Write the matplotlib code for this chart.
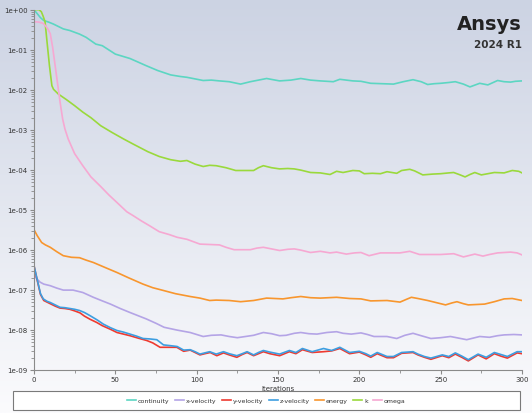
import numpy as np
import matplotlib
matplotlib.use('Agg')
import matplotlib.pyplot as plt
from matplotlib.patches import Rectangle

# residuals, stored as (iteration, log10 residual)
continuity = [(0, 0.0), (2, -0.1), (4, -0.2), (6, -0.27), (9, -0.31), (12, -0.36), (18, -0.48),
              (22, -0.52), (28, -0.61), (32, -0.69), (38, -0.86), (42, -0.9), (50, -1.11),
              (59, -1.22), (69, -1.40), (76, -1.52), (84, -1.63), (90, -1.67), (94, -1.69),
              (99, -1.73), (104, -1.77), (109, -1.76), (114, -1.78), (120, -1.80), (127, -1.86),
              (133, -1.80), (138, -1.76), (143, -1.72), (147, -1.75), (151, -1.78), (158, -1.76),
              (164, -1.72), (170, -1.76), (176, -1.78), (184, -1.80), (188, -1.74), (196, -1.78),
              (201, -1.79), (207, -1.84), (214, -1.85), (221, -1.86), (227, -1.80), (233, -1.75),
              (238, -1.80), (242, -1.87), (246, -1.85), (250, -1.84), (255, -1.82), (259, -1.80),
              (264, -1.86), (268, -1.93), (274, -1.84), (279, -1.88), (285, -1.77), (289, -1.80),
              (293, -1.81), (296, -1.79), (300, -1.78)]

x_velocity = [(0, -6.65), (3.7, -6.81), (6, -6.86), (10, -6.9), (14, -6.96), (18, -7.01), (24, -7.01),
              (30, -7.07), (36.5, -7.19), (42, -7.28), (47, -7.36), (53, -7.47), (59, -7.57),
              (64, -7.65), (69, -7.73), (75, -7.84), (80, -7.94), (88, -8.01), (96, -8.07),
              (100, -8.12), (104, -8.17), (109, -8.14), (115, -8.13), (120, -8.17), (125, -8.2),
              (130, -8.17), (135, -8.14), (141, -8.07), (146, -8.1), (151, -8.15), (155, -8.14),
              (160, -8.09), (164, -8.07), (169, -8.1), (174, -8.11), (180, -8.07), (186, -8.05),
              (190, -8.09), (195, -8.11), (201, -8.08), (205, -8.12), (209, -8.17), (217, -8.17),
              (223, -8.22), (228, -8.14), (233, -8.09), (238, -8.15), (244, -8.22), (250, -8.2),
              (256, -8.17), (261, -8.21), (266, -8.25), (270, -8.21), (274, -8.17), (280, -8.19),
              (285, -8.15), (289, -8.13), (295, -8.12), (300, -8.13)]

y_velocity = [(0, -6.4), (2, -6.77), (4, -7.12), (6, -7.27), (8, -7.31), (10, -7.35), (13, -7.41),
              (16, -7.46), (19, -7.47), (22, -7.49), (25, -7.53), (28.3, -7.58), (31, -7.66),
              (34.5, -7.74), (38.6, -7.82), (42, -7.9), (47, -7.99), (51, -8.07), (55, -8.11),
              (59, -8.15), (64, -8.21), (69.3, -8.27), (73, -8.33), (77.5, -8.44), (82, -8.44),
              (87.8, -8.44), (92, -8.54), (96, -8.51), (99, -8.57), (102, -8.63), (105, -8.6),
              (108.3, -8.57), (112.4, -8.65), (116.5, -8.58), (120, -8.63), (124.7, -8.69),
              (128, -8.62), (131, -8.57), (135, -8.65), (138, -8.6), (141, -8.55), (145, -8.6),
              (151, -8.65), (157, -8.55), (161, -8.6), (165, -8.5), (171, -8.57), (178, -8.55),
              (183, -8.53), (188, -8.47), (194, -8.6), (200, -8.56), (204, -8.63), (207, -8.69),
              (211, -8.6), (217, -8.7), (221, -8.7), (226, -8.59), (233, -8.57), (236, -8.63),
              (240, -8.69), (244, -8.74), (251, -8.65), (255, -8.7), (259, -8.61), (263, -8.69),
              (267, -8.78), (273, -8.63), (278, -8.73), (283, -8.6), (287, -8.66), (291, -8.71),
              (297, -8.58), (300, -8.6)]

z_velocity = [(0, -6.4), (2, -6.75), (4, -7.1), (5.7, -7.23), (8, -7.29), (10, -7.32), (13, -7.38),
              (16, -7.44), (19, -7.45), (22, -7.47), (25, -7.49), (28, -7.52), (31, -7.57),
              (34.5, -7.65), (39, -7.76), (42.6, -7.86), (47, -7.95), (51, -8.02), (55, -8.06),
              (59, -8.11), (63, -8.16), (67, -8.22), (71, -8.23), (75.5, -8.25), (79.6, -8.38),
              (84, -8.4), (88, -8.42), (92, -8.51), (96, -8.5), (99, -8.55), (102, -8.61),
              (105, -8.58), (108, -8.55), (112, -8.61), (116.5, -8.55), (120, -8.6), (124.7, -8.65),
              (128, -8.6), (131, -8.55), (135, -8.63), (138, -8.57), (141, -8.52), (145, -8.56),
              (151, -8.61), (157, -8.52), (161, -8.57), (165, -8.47), (171, -8.55), (178, -8.47),
              (183, -8.52), (188, -8.44), (194, -8.57), (200, -8.54), (204, -8.6), (207, -8.66),
              (211, -8.57), (217, -8.67), (221, -8.67), (226, -8.57), (233, -8.55), (236, -8.61),
              (240, -8.67), (244, -8.71), (251, -8.63), (255, -8.67), (259, -8.58), (263, -8.66),
              (267, -8.75), (273, -8.61), (278, -8.69), (283, -8.57), (287, -8.62), (291, -8.67),
              (297, -8.55), (300, -8.55)]

energy = [(0, -5.5), (2, -5.65), (4.7, -5.82), (7, -5.88), (10, -5.94), (14, -6.05), (18, -6.15),
          (23, -6.19), (28, -6.2), (32, -6.26), (36.5, -6.32), (44, -6.45), (51, -6.57), (58, -6.7),
          (67, -6.86), (73, -6.95), (79.6, -7.02), (87, -7.1), (96, -7.17), (102, -7.21),
          (108, -7.27), (112, -7.26), (120, -7.27), (127, -7.30), (135, -7.27), (143, -7.21),
          (148, -7.22), (153, -7.23), (158, -7.2), (164, -7.17), (170, -7.2), (176, -7.21),
          (186, -7.19), (194, -7.22), (201, -7.23), (207, -7.28), (217, -7.27), (225, -7.31),
          (229, -7.24), (232, -7.19), (236, -7.22), (242, -7.27), (248, -7.33), (253, -7.38),
          (257, -7.33), (260, -7.30), (264, -7.35), (267, -7.38), (272, -7.37), (277, -7.36),
          (283, -7.30), (289, -7.23), (294, -7.22), (300, -7.27)]

k = [(0, 0.0), (3, 0.0), (4.5, -0.05), (5.5, -0.15), (6.8, -0.3), (8, -0.8), (9.5, -1.4), (11, -1.9),
     (12, -1.99), (15, -2.11), (20, -2.25), (25, -2.4), (30, -2.56), (35, -2.7), (41, -2.9),
     (48, -3.07), (55, -3.23), (61, -3.36), (70, -3.55), (77, -3.67), (84, -3.75), (90, -3.79),
     (94, -3.77), (99, -3.86), (104, -3.92), (108, -3.89), (112, -3.90), (118, -3.95), (124, -4.02),
     (130, -4.02), (135, -4.02), (138, -3.95), (141, -3.90), (146, -3.95), (151, -3.98),
     (156, -3.97), (160, -3.98), (164, -4.01), (170, -4.07), (176, -4.08), (182, -4.12),
     (186, -4.04), (190, -4.07), (196, -4.02), (200, -4.03), (203, -4.10), (208, -4.09),
     (213, -4.10), (217, -4.05), (223, -4.09), (226, -4.02), (231, -3.99), (234, -4.03),
     (239, -4.13), (245, -4.11), (250, -4.10), (255, -4.08), (258, -4.07), (262, -4.13),
     (265, -4.18), (268, -4.12), (271, -4.07), (275, -4.13), (279, -4.10), (283, -4.07),
     (289, -4.08), (294, -4.02), (298, -4.04), (300, -4.08)]

omega = [(0, -0.3), (3, -0.31), (5.5, -0.34), (7, -0.40), (8.5, -0.48), (10, -0.6), (11.5, -0.95),
         (13, -1.4), (14.5, -1.85), (16, -2.3), (17.6, -2.73), (19, -2.98), (21, -3.23), (25, -3.6),
         (30, -3.9), (35, -4.18), (41, -4.42), (46, -4.63), (51, -4.82), (57, -5.05), (61, -5.15),
         (66, -5.28), (71, -5.4), (77, -5.55), (83, -5.62), (88, -5.69), (94, -5.74), (98, -5.8),
         (102, -5.86), (108, -5.87), (114, -5.88), (118, -5.94), (123, -6.0), (128, -6.0),
         (133, -6.0), (137, -5.96), (141, -5.94), (146, -5.98), (151, -6.02), (156, -5.99),
         (160, -5.98), (164, -6.01), (170, -6.07), (176, -6.04), (182, -6.08), (186, -6.06),
         (192, -6.11), (197, -6.08), (201, -6.07), (206, -6.15), (213, -6.08), (219, -6.08),
         (225, -6.08), (231, -6.04), (237, -6.12), (244, -6.12), (250, -6.12), (258, -6.10),
         (264, -6.18), (271, -6.11), (276, -6.16), (280, -6.12), (285, -6.08), (293, -6.06),
         (297, -6.08), (300, -6.13)]

series = [('continuity', continuity, '#5cd6c2'),
          ('x-velocity', x_velocity, '#b4a4e6'),
          ('y-velocity', y_velocity, '#ee3a30'),
          ('z-velocity', z_velocity, '#3d9ee0'),
          ('energy', energy, '#f8962e'),
          ('k', k, '#9ad93c'),
          ('omega', omega, '#f6a8d2')]

fig = plt.figure(figsize=(5.32, 4.14), dpi=100)

# background gradient
bg = fig.add_axes([0, 0, 1, 1], zorder=-10)
top = np.array([204, 211, 227]) / 255
bot = np.array([251, 251, 253]) / 255
t = np.linspace(0, 1, 256)[:, None]
grad = top[None, :] * (1 - t) + bot[None, :] * t
bg.imshow(grad[:, None, :], aspect='auto', extent=[0, 1, 0, 1])
bg.axis('off')

ax = fig.add_axes([34 / 532, 1 - 370.7 / 414, 488 / 532, 360 / 414])
ax.patch.set_alpha(0)

for name, data, col in series:
    arr = np.array(data)
    ax.plot(arr[:, 0], 10 ** arr[:, 1], color=col, lw=1.2, label=name)

ax.set_yscale('log')
ax.set_ylim(1e-9, 1)
ax.set_xlim(0, 300)
ax.set_yticks([10.0 ** -i for i in range(10)])
ax.set_yticklabels(['1e-%02d' % i if i else '1e+00' for i in range(10)])
ax.set_xticks(range(0, 301, 50))
ax.set_xticks(range(0, 301, 25), minor=True)
for s in ['top', 'right']:
    ax.spines[s].set_visible(False)
for s in ['left', 'bottom']:
    ax.spines[s].set_color('#8a8a8a')
ax.tick_params(labelsize=5, colors='#8a8a8a', labelcolor='#333333', length=3, width=0.8, pad=1.5)
ax.tick_params(which='minor', length=2, width=0.6, colors='#8a8a8a')
ax.set_xlabel('Iterations', fontsize=5, color='#333333', labelpad=2)

# legend box
fig.patches.append(Rectangle((13 / 532, 1 - 411 / 414), 507 / 532, 19 / 414,
                             transform=fig.transFigure, facecolor='white',
                             edgecolor='#7a7a7a', lw=0.8))
fig.legend(loc='center', bbox_to_anchor=(266.5 / 532, 1 - 401.5 / 414), ncol=7,
           frameon=False, fontsize=4.5, handlelength=1.4, handletextpad=0.3,
           columnspacing=0.9, labelcolor='#333333')

fig.text(522 / 532, 1 - 24 / 414, 'Ansys', ha='right', va='center', fontsize=14,
         fontweight='bold', color='#222222', family='DejaVu Sans')
fig.text(522 / 532, 1 - 45 / 414, '2024 R1', ha='right', va='center', fontsize=7.5,
         fontweight='bold', color='#333333')

fig.savefig('out.png', dpi=100)
